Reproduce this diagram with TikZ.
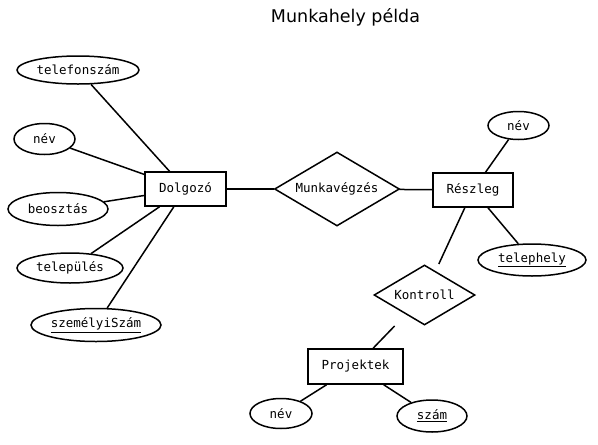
\documentclass[tikz,border=0pt]{standalone}
\usepackage{fontspec}
\setmainfont{DejaVu Sans}
\setmonofont{DejaVu Sans Mono}
\usetikzlibrary{shapes.geometric}

\begin{document}
\begin{tikzpicture}[x=1pt, y=-1pt, line width=1.5pt,
    entity/.style={rectangle, draw, inner sep=0pt, font=\ttfamily\fontsize{12.5}{15}\selectfont},
    attr/.style={ellipse, draw, inner sep=0pt, font=\ttfamily\fontsize{12.5}{15}\selectfont},
    rel/.style={diamond, draw, aspect=1.67, inner sep=0pt, font=\ttfamily\fontsize{12.5}{15}\selectfont}]
    \useasboundingbox (0,0) rectangle (598,445);

    % cím
    \node[anchor=base, font=\fontsize{17.5}{20}\selectfont] (cim) at (345.5,22.5) {Munkahely példa};

    % egyedek
    \node[entity, minimum width=81, minimum height=34] (Dolgozo) at (185.5,189) {Dolgozó};
    \node[entity, minimum width=80, minimum height=34] (Reszleg) at (473,190) {Részleg};
    \node[entity, minimum width=95, minimum height=35] (Projektek) at (355.5,366.5) {Projektek};

    % kapcsolatok
    \node[rel, minimum width=125, minimum height=74] (Munkavegzes) at (337,189) {Munkavégzés};
    \node[rel, minimum width=101, minimum height=60] (Kontroll) at (424.5,295) {Kontroll};
    \node[rectangle, inner sep=0pt, outer sep=0pt, minimum width=103, minimum height=62] (KontrollKeret) at (Kontroll) {};

    % tulajdonságok
    \node[attr, minimum width=122, minimum height=28] (telefonszam) at (78,70) {telefonszám};
    \node[attr, minimum width=61, minimum height=31] (nevD) at (44.5,139) {név};
    \node[attr, minimum width=100, minimum height=33] (beosztas) at (58,209) {beosztás};
    \node[attr, minimum width=106, minimum height=30] (telepules) at (70,268) {település};
    \node[attr, minimum width=130, minimum height=33] (szemelyiSzam) at (96,325) {\underline{személyiSzám}};
    \node[attr, minimum width=61, minimum height=28] (nevR) at (518.5,125.5) {név};
    \node[attr, minimum width=108, minimum height=32] (telephely) at (532,260) {\underline{telephely}};
    \node[attr, minimum width=62, minimum height=30] (nevP) at (281,413.5) {név};
    \node[attr, minimum width=70, minimum height=32] (szam) at (432,416) {\underline{szám}};

    % élek
    \draw (telefonszam) -- (Dolgozo);
    \draw (nevD) -- (Dolgozo);
    \draw (beosztas) -- (Dolgozo);
    \draw (telepules) -- (Dolgozo);
    \draw (szemelyiSzam) -- (Dolgozo);
    \draw (Dolgozo) -- (Munkavegzes);
    \draw (Munkavegzes) -- (Reszleg);
    \draw (nevR) -- (Reszleg);
    \draw (telephely) -- (Reszleg);
    \draw (Reszleg) -- (KontrollKeret);
    \draw (KontrollKeret) -- (Projektek);
    \draw (nevP) -- (Projektek);
    \draw (szam) -- (Projektek);
\end{tikzpicture}
\end{document}
